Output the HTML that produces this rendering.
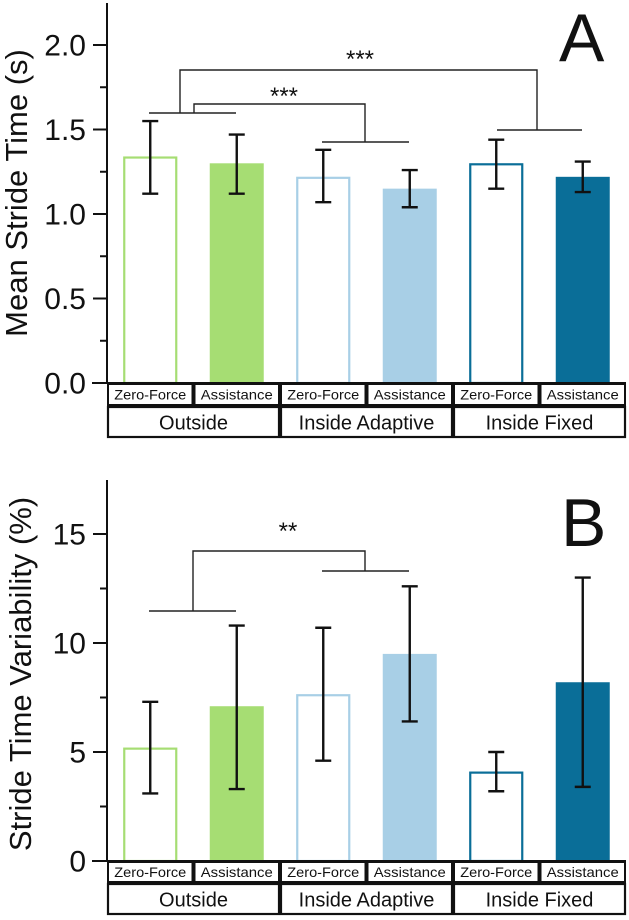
<!DOCTYPE html>
<html><head><meta charset="utf-8"><style>
html,body{margin:0;padding:0;background:#fff;}
svg{display:block;font-family:"Liberation Sans",Arial,sans-serif;}
</style></head><body>
<svg id="chart" width="629" height="920" viewBox="0 0 629 920"></svg>
<script>
const categories = ["Zero-Force","Assistance","Zero-Force","Assistance","Zero-Force","Assistance"];
const groups = ["Outside","Inside Adaptive","Inside Fixed"];
const meanA = [1.34,1.30,1.22,1.15,1.30,1.22];
const lowA = [1.12,1.12,1.07,1.04,1.15,1.13];
const highA = [1.55,1.47,1.38,1.26,1.44,1.31];
const meanB = [5.2,7.1,7.65,9.5,4.1,8.2];
const lowB = [3.1,3.3,4.6,6.4,3.2,3.4];
const highB = [7.3,10.8,10.7,12.6,5.0,13.0];
const ticksA = [0,0.5,1.0,1.5,2.0];
const tickLabelsA = ["0.0","0.5","1.0","1.5","2.0"];
const ticksB = [0,5,10,15];
const tickLabelsB = ["0","5","10","15"];

const NS="http://www.w3.org/2000/svg";
const svg=document.getElementById('chart');
const colors=["#a6dd73","#a6dd73","#a8cfe6","#a8cfe6","#0a6e98","#0a6e98"];
const hollow=[true,false,true,false,true,false];
function mk(tag,attrs,parent){const e=document.createElementNS(NS,tag);for(const k in attrs)e.setAttribute(k,attrs[k]);(parent||svg).appendChild(e);return e;}
const axX=107, colW=86.5, barW=54;
function xC(i){return axX+colW*(i+0.5);}

function panel(cfg){
  const g=mk('g',{});
  
  
  const y=v=>cfg.y0-(v)*cfg.k;
  cfg.mean.forEach((m,i)=>{
    let r;
    if(hollow[i]) r=mk('rect',{x:xC(i)-barW/2+1,y:y(m)+1,width:barW-2,height:cfg.y0-y(m)-1,fill:'#fff',stroke:colors[i],'stroke-width':2.2},g);
    else r=mk('rect',{x:xC(i)-barW/2,y:y(m),width:barW,height:cfg.y0-y(m),fill:colors[i]},g);
    
    
  });
  cfg.mean.forEach((m,i)=>{
    const eg=mk('g',{stroke:'#111','stroke-width':2.4},g);
    
    
    const x=xC(i);
    mk('line',{x1:x,x2:x,y1:y(cfg.low[i]),y2:y(cfg.high[i])},eg);
    mk('line',{x1:x-8,x2:x+8,y1:y(cfg.low[i]),y2:y(cfg.low[i])},eg);
    mk('line',{x1:x-8,x2:x+8,y1:y(cfg.high[i]),y2:y(cfg.high[i])},eg);
  });
  const ax=mk('g',{stroke:'#111','stroke-width':2},g);
  
  
  mk('line',{x1:axX,x2:axX,y1:cfg.top,y2:cfg.y0},ax);
  mk('line',{x1:92,x2:626,y1:cfg.y0,y2:cfg.y0},ax);
  cfg.ticks.forEach((t,i)=>{
    mk('line',{x1:93,x2:axX,y1:y(t),y2:y(t)},ax);
    const tx=mk('text',{x:86,y:y(t)+10.5,'font-size':30,'text-anchor':'end',fill:'#111',stroke:'none'},g);
    tx.textContent=cfg.labels[i];
    
    
    if(i<cfg.ticks.length-1){const mv=(t+cfg.ticks[i+1])/2;mk('line',{x1:100,x2:axX,y1:y(mv),y2:y(mv)},ax);}
  });
  const last=cfg.ticks[cfg.ticks.length-1]+(cfg.ticks[1]-cfg.ticks[0])/2;
  if(y(last)>cfg.top) mk('line',{x1:100,x2:axX,y1:y(last),y2:y(last)},ax);
  const tt=mk('text',{transform:`translate(${cfg.titleX},${cfg.titleY}) rotate(-90)`,'font-size':31,'text-anchor':'middle',fill:'#111'},g);
  tt.textContent=cfg.title;
  
  
  const L=mk('text',{x:cfg.letterX,y:cfg.letterY,'font-size':68,fill:'#111'},g);
  L.textContent=cfg.letter;
  
  
  const r1=cfg.y0, r2=cfg.y0+cfg.h1;
  categories.forEach((c,i)=>{
    const bx=mk('rect',{x:axX+colW*i+1,y:r1+1,width:colW-2,height:cfg.h1-2,fill:'#fff',stroke:'#111','stroke-width':2},g);
    
    
    const t=mk('text',{x:xC(i),y:r1+cfg.h1/2+5,'font-size':14,'text-anchor':'middle',fill:'#111',textLength:72,lengthAdjust:'spacingAndGlyphs'},g);
    t.textContent=c;
    
    
  });
  groups.forEach((gname,j)=>{
    const bx=mk('rect',{x:axX+colW*2*j+1,y:r2+1,width:colW*2-2,height:cfg.h2-2,fill:'#fff',stroke:'#111','stroke-width':2.2},g);
    
    
    const t=mk('text',{x:axX+colW*(2*j+1),y:r2+cfg.h2/2+7.5,'font-size':20,'text-anchor':'middle',fill:'#111'},g);
    t.textContent=gname;
    
    
  });
  return g;
}

panel({name:'panel-a',y0:383,k:169,top:3,mean:meanA,low:lowA,high:highA,ticks:ticksA,labels:tickLabelsA,title:'Mean Stride Time (s)',titleX:27,titleY:193,letter:'A',letterX:559,letterY:61,h1:23,h2:32});
panel({name:'panel-b',y0:861,k:21.8,top:480,mean:meanB,low:lowB,high:highB,ticks:ticksB,labels:tickLabelsB,title:'Stride Time Variability (%)',titleX:31,titleY:674,letter:'B',letterX:561,letterY:546,h1:22,h2:32});

function bracket(pts,name){
  const p=mk('polyline',{points:pts.map(a=>a.join(',')).join(' '),fill:'none',stroke:'#222','stroke-width':1.4});
  
  
}
function line(x1,x2,yy,name){const l=mk('line',{x1:x1,x2:x2,y1:yy,y2:yy,stroke:'#222','stroke-width':1.4});}
function stars(x,yy,s,name){const t=mk('text',{x:x,y:yy,'font-size':24,'text-anchor':'middle',fill:'#111'});t.textContent=s;}
line(149,236,113,'sig-outside-base-a');
line(322,409,142,'sig-adaptive-base-a');
line(497,582,130,'sig-fixed-base-a');
bracket([[180,113],[180,70],[537,70],[537,130]],'sig-bracket-outside-fixed');
bracket([[194,113],[194,104],[365,104],[365,142]],'sig-bracket-outside-adaptive');
stars(360,67,'***','sig-stars-outside-fixed');
stars(284,104,'***','sig-stars-outside-adaptive');
line(149,236,611,'sig-outside-base-b');
line(322,409,571,'sig-adaptive-base-b');
bracket([[193,611],[193,551],[365,551],[365,571]],'sig-bracket-b');
stars(288,539,'**','sig-stars-b');
</script>
</body></html>
